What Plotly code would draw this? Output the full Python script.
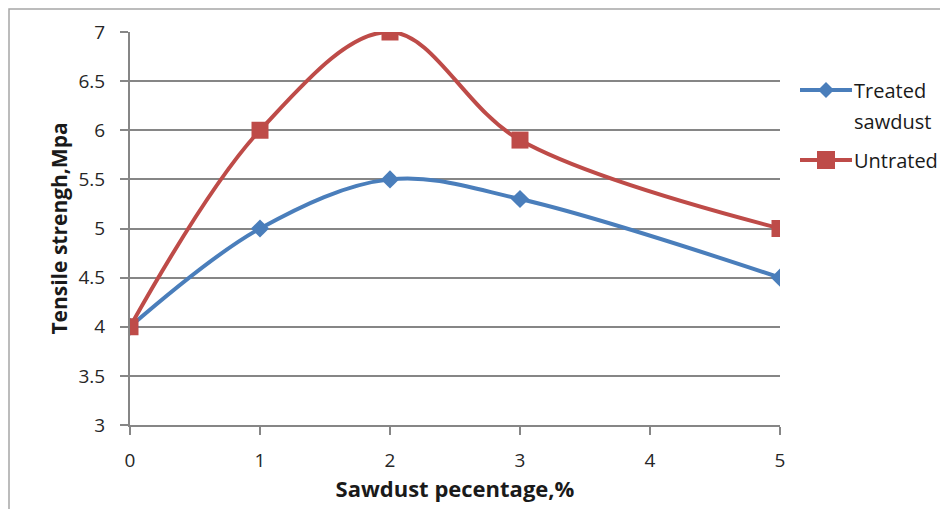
import plotly.graph_objects as go

# sawdust percentage on x, tensile strength (MPa) on y
sawdust_pct = [0, 1, 2, 3, 5]
treated = [4.0, 5.0, 5.5, 5.3, 4.5]
untreated = [4.0, 6.0, 7.0, 5.9, 5.0]

x_ticks = [0, 1, 2, 3, 4, 5]
y_ticks = [3, 3.5, 4, 4.5, 5, 5.5, 6, 6.5, 7]

BLUE = "#4A7EBB"
RED = "#BE4B48"
GRID = "#868686"

# the page body adds an 8px offset, margins are set so the plot lands where it should
OFF = 8
W, H = 948, 509
L, T = 122, 24
PW, PH = 650, 393
R = W - L - PW
B = H - T - PH


def px(sx):
    # screenshot x -> paper x
    return (sx - OFF - L) / PW


def py(sy):
    # screenshot y -> paper y
    return 1 - (sy - OFF - T) / PH


fig = go.Figure()
fig.add_trace(go.Scatter(
    x=sawdust_pct, y=treated, name="Treated sawdust",
    mode="lines+markers",
    line=dict(color=BLUE, width=4, shape="spline", smoothing=1),
    marker=dict(symbol="diamond", size=14, color=BLUE),
))
fig.add_trace(go.Scatter(
    x=sawdust_pct, y=untreated, name="Untrated",
    mode="lines+markers",
    line=dict(color=RED, width=4, shape="spline", smoothing=1),
    marker=dict(symbol="square", size=17, color=RED),
))

shapes = []
annotations = []

# outer chart border (only left and top edges are visible)
shapes.append(dict(type="rect", xref="paper", yref="paper",
                   x0=px(9), x1=px(1000), y0=py(580), y1=py(9),
                   line=dict(color="#A6A6A6", width=1.5), layer="below"))

# hand-made legend, Excel style (long line, symbol aligned to first text line)
lx0, lx1, lxm = 800, 852, 826
leg = [
    (90, BLUE, "diamond", ["Treated", "sawdust"]),
    (160, RED, "square", ["Untrated"]),
]
for sy, col, sym, lines in leg:
    shapes.append(dict(type="line", xref="paper", yref="paper",
                       x0=px(lx0), x1=px(lx1), y0=py(sy), y1=py(sy),
                       line=dict(color=col, width=4)))
    if sym == "square":
        shapes.append(dict(type="rect", xref="paper", yref="paper",
                           x0=px(lxm - 9), x1=px(lxm + 9),
                           y0=py(sy + 9), y1=py(sy - 9),
                           fillcolor=col, line=dict(width=0)))
    else:
        d = 8
        path = (f"M {px(lxm - d)} {py(sy)} L {px(lxm)} {py(sy - d)} "
                f"L {px(lxm + d)} {py(sy)} L {px(lxm)} {py(sy + d)} Z")
        shapes.append(dict(type="path", xref="paper", yref="paper", path=path,
                           fillcolor=col, line=dict(width=0)))
    for i, txt in enumerate(lines):
        annotations.append(dict(x=px(852), y=py(sy + i * 32), xref="paper", yref="paper",
                                text=txt, showarrow=False, xanchor="left", yanchor="middle",
                                font=dict(size=20, color="#1a1a1a")))

fig.update_layout(
    width=W, height=H,
    margin=dict(l=L, r=R, t=T, b=B),
    plot_bgcolor="white", paper_bgcolor="white",
    font=dict(family="Open Sans, DejaVu Sans, sans-serif", size=19, color="#262626"),
    showlegend=False,
    shapes=shapes,
    annotations=annotations,
)
fig.update_xaxes(
    range=[0, 5], tickvals=x_ticks, ticks="outside", ticklen=8,
    tickcolor=GRID, tickwidth=1.5, showline=True, linecolor=GRID, linewidth=2,
    showgrid=False, zeroline=False, ticklabelstandoff=9,
    title=dict(text="<b>Sawdust pecentage,%</b>", font=dict(size=22, color="#1a1a1a"),
               standoff=5),
)
fig.update_yaxes(
    range=[3, 7], tickvals=y_ticks, ticks="outside", ticklen=8,
    tickcolor=GRID, tickwidth=1.5, showline=True, linecolor=GRID, linewidth=2,
    showgrid=True, gridcolor=GRID, gridwidth=1.5, zeroline=False,
    ticklabelstandoff=11,
    title=dict(text="<b>Tensile strengh,Mpa</b>", font=dict(size=21, color="#1a1a1a"),
               standoff=5),
)

fig.write_html("out.html")
